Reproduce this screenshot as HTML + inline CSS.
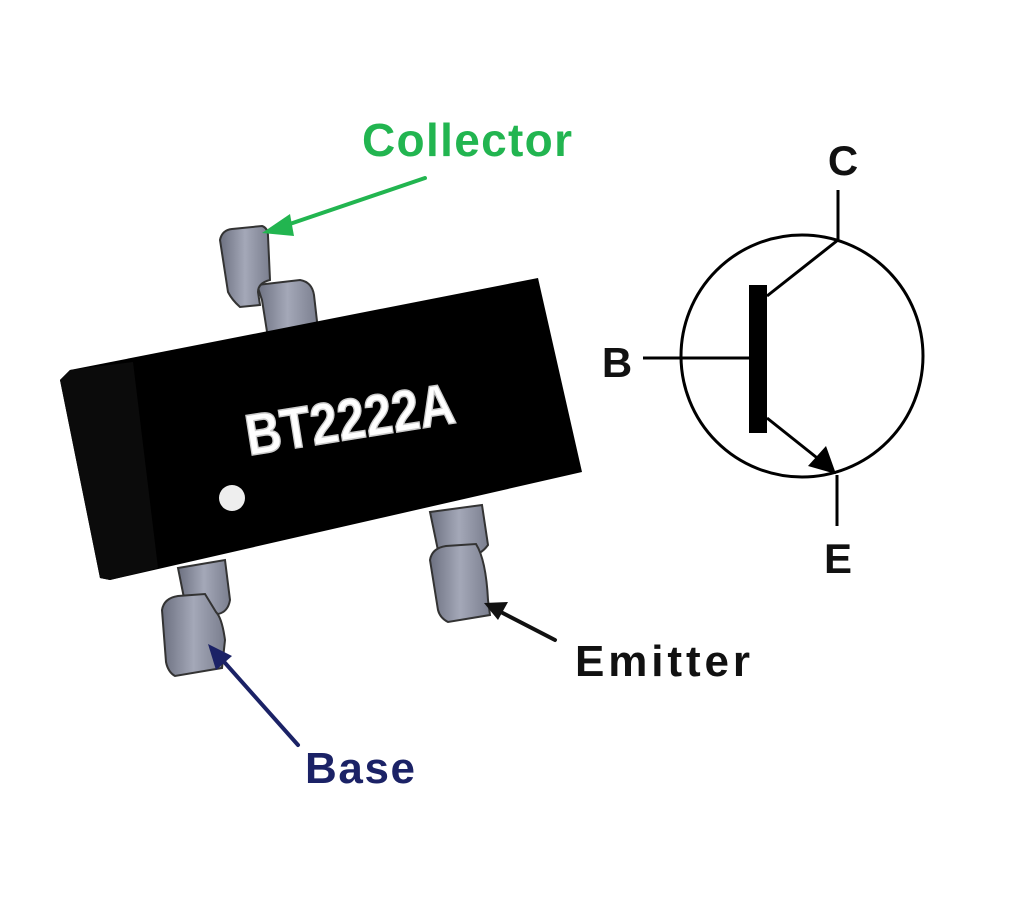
<!DOCTYPE html>
<html><head><style>
html,body{margin:0;padding:0;background:#fff;}
svg{display:block;}
</style></head><body>
<svg width="1024" height="900" viewBox="0 0 1024 900" xmlns="http://www.w3.org/2000/svg">
<defs>
<linearGradient id="pg" x1="0" y1="0" x2="1" y2="0">
<stop offset="0" stop-color="#6c7080"/><stop offset="0.5" stop-color="#a4a8b8"/><stop offset="1" stop-color="#7a7e8e"/>
</linearGradient>
</defs>
<!-- Collector pin -->
<g stroke="#333" stroke-width="2" fill="url(#pg)">
<path d="M257,285 L300,280 Q312,282 314,295 L318,330 L268,338 L262,300 Z"/>
<path d="M220,240 Q222,230 232,229 L262,226 Q268,228 268,236 L270,280 Q258,283 258,292 L260,305 L240,307 Q232,300 228,292 Z"/>
</g>
<!-- Body -->
<polygon points="60,380 70,370 538,278 582,472 110,580 100,578" fill="#000"/>
<polygon points="60,380 70,370 133,362 158,568 110,580 100,578" fill="#0b0b0b"/>
<text x="0" y="0" transform="translate(353,439) rotate(-9) scale(0.85,1)" text-anchor="middle" font-family="Liberation Sans, sans-serif" font-weight="bold" font-size="58" fill="#fff" stroke="#ccc" stroke-width="1.5">BT2222A</text>
<circle cx="232" cy="498" r="13" fill="#eee"/>
<!-- Base pin -->
<g stroke="#333" stroke-width="2" fill="url(#pg)">
<path d="M178,568 L225,560 L230,600 Q228,612 218,614 L188,618 Z"/>
<path d="M162,610 Q164,598 178,596 L205,594 L216,612 Q222,618 225,640 L222,668 L175,676 Q168,672 166,662 Z"/>
</g>
<!-- Emitter pin -->
<g stroke="#333" stroke-width="2" fill="url(#pg)">
<path d="M430,512 L482,505 L488,545 Q480,556 468,556 L440,560 Z"/>
<path d="M430,560 Q432,548 446,546 L476,544 Q486,560 488,600 L490,615 L448,622 Q440,618 438,610 Z"/>
</g>
<!-- Arrows -->
<g stroke-width="4" stroke-linecap="round">
<line x1="425" y1="178" x2="278" y2="228" stroke="#22b550"/>
<polygon points="262,233 290,214 294,236" fill="#22b550"/>
<line x1="298" y1="745" x2="218" y2="655" stroke="#1b2266"/>
<polygon points="208,644 232,656 216,670" fill="#1b2266"/>
<line x1="555" y1="640" x2="495" y2="609" stroke="#111"/>
<polygon points="484,603 508,602 498,620" fill="#111"/>
</g>
<!-- Labels -->
<text x="362" y="156" font-family="Liberation Sans, sans-serif" font-weight="bold" font-size="46" fill="#22b550" textLength="210">Collector</text>
<text x="305" y="783" font-family="Liberation Sans, sans-serif" font-weight="bold" font-size="44" fill="#1b2266" textLength="110">Base</text>
<text x="575" y="676" font-family="Liberation Sans, sans-serif" font-weight="bold" font-size="44" fill="#111" textLength="175">Emitter</text>
<!-- Symbol -->
<g stroke="#000" stroke-width="3" fill="none">
<circle cx="802" cy="356" r="121"/>
<line x1="643" y1="358" x2="750" y2="358"/>
<line x1="767" y1="296" x2="838" y2="240"/>
<line x1="838" y1="240" x2="838" y2="190"/>
<line x1="767" y1="418" x2="826" y2="465"/>
<line x1="837" y1="475" x2="837" y2="526"/>
</g>
<rect x="749" y="285" width="18" height="148" fill="#000"/>
<polygon points="836,474 808,466 826,446" fill="#000"/>
<g font-family="Liberation Sans, sans-serif" font-weight="bold" font-size="42" fill="#111">
<text x="843" y="175" text-anchor="middle">C</text>
<text x="617" y="377" text-anchor="middle">B</text>
<text x="838" y="573" text-anchor="middle">E</text>
</g>
</svg>
</body></html>
